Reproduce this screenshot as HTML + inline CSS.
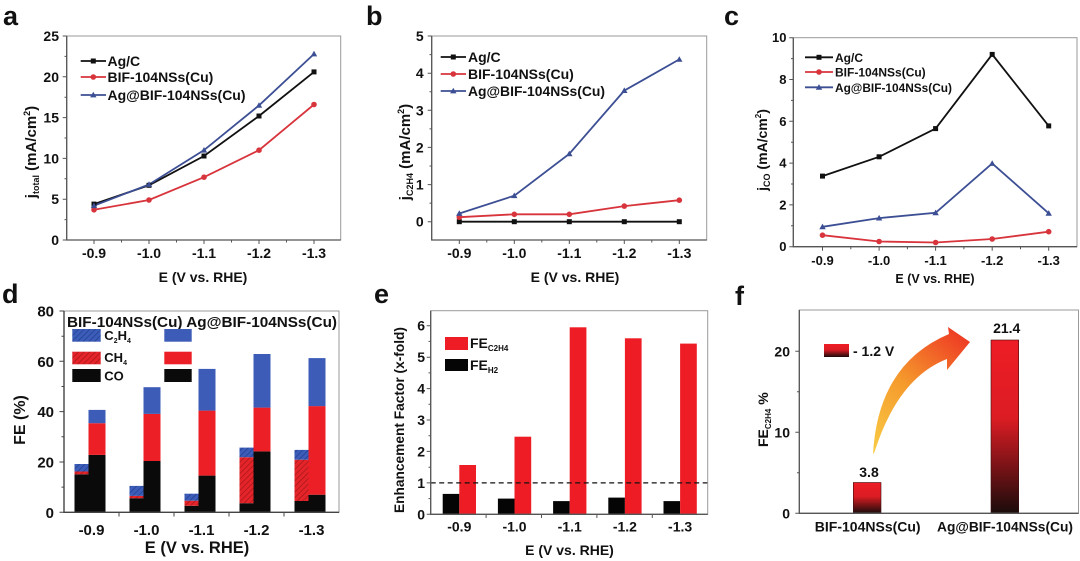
<!DOCTYPE html>
<html><head><meta charset="utf-8"><style>html,body{margin:0;padding:0;background:#fff;}svg{display:block;}</style></head>
<body>
<svg width="1080" height="561" viewBox="0 0 1080 561" xmlns="http://www.w3.org/2000/svg" font-family="'Liberation Sans', Arial, sans-serif" font-weight="bold" fill="#111">
<defs>
<pattern id="hb" patternUnits="userSpaceOnUse" width="4" height="4" patternTransform="rotate(45)"><rect width="4" height="4" fill="#3b5db9"/><line x1="0" y1="0" x2="0" y2="4" stroke="#203a86" stroke-width="1.3"/></pattern>
<pattern id="hr" patternUnits="userSpaceOnUse" width="4" height="4" patternTransform="rotate(45)"><rect width="4" height="4" fill="#e5242a"/><line x1="0" y1="0" x2="0" y2="4" stroke="#9c1518" stroke-width="1.3"/></pattern>
<linearGradient id="gbar" x1="0" y1="0" x2="0" y2="1"><stop offset="0" stop-color="#ee1d25"/><stop offset="0.45" stop-color="#dc1c23"/><stop offset="1" stop-color="#1a0b0b"/></linearGradient>
<linearGradient id="garr" gradientUnits="userSpaceOnUse" x1="873" y1="454" x2="968" y2="338"><stop offset="0" stop-color="#f9cc45"/><stop offset="0.5" stop-color="#f59a2c"/><stop offset="1" stop-color="#ee3a24"/></linearGradient>
</defs>

<!-- Panel labels -->
<g font-size="27">
<text x="3" y="25">a</text>
<text x="366" y="25">b</text>
<text x="724" y="25">c</text>
<text x="2" y="303">d</text>
<text x="374" y="303">e</text>
<text x="735" y="305">f</text>
</g>

<!-- ================= Panel a ================= -->
<rect x="66.7" y="36" width="274" height="204" fill="none" stroke="#9a9a9a" stroke-width="1"/>
<path d="M66.7 36V240H340.7" fill="none" stroke="#555" stroke-width="1.3"/>
<path d="M62.7 240H66.7M62.7 199.2H66.7M62.7 158.4H66.7M62.7 117.6H66.7M62.7 76.8H66.7M62.7 36H66.7M64.5 219.6H66.7M64.5 178.8H66.7M64.5 138H66.7M64.5 97.2H66.7M64.5 56.4H66.7M94 240V244M149 240V244M204 240V244M259 240V244M314 240V244M121.5 240V242.5M176.5 240V242.5M231.5 240V242.5M286.5 240V242.5" stroke="#555" stroke-width="1"/>
<g font-size="14" text-anchor="end">
<text x="59" y="245">0</text><text x="59" y="204.2">5</text><text x="59" y="163.4">10</text><text x="59" y="122.6">15</text><text x="59" y="81.8">20</text><text x="59" y="41">25</text>
</g>
<g font-size="14" text-anchor="middle">
<text x="94" y="258">-0.9</text><text x="149" y="258">-1.0</text><text x="204" y="258">-1.1</text><text x="259" y="258">-1.2</text><text x="314" y="258">-1.3</text>
<text x="203" y="282">E (V vs. RHE)</text>
</g>
<text transform="translate(36,152) rotate(-90)" text-anchor="middle" font-size="15">j<tspan font-size="9" dy="3">total</tspan><tspan dy="-3"> (mA/cm</tspan><tspan font-size="9" dy="-6">2</tspan><tspan dy="6">)</tspan></text>
<polyline points="94,204.1 149,185.3 204,156 259,116 314,71.9" fill="none" stroke="#111" stroke-width="1.8"/>
<polyline points="94,209.8 149,200 204,177.2 259,150.2 314,104.5" fill="none" stroke="#d8343c" stroke-width="1.8"/>
<polyline points="94,205.7 149,184.5 204,150.2 259,105.4 314,54" fill="none" stroke="#3d4f94" stroke-width="1.8"/>
<g fill="#111"><rect x="91.5" y="201.6" width="5" height="5"/><rect x="146.5" y="182.8" width="5" height="5"/><rect x="201.5" y="153.5" width="5" height="5"/><rect x="256.5" y="113.5" width="5" height="5"/><rect x="311.5" y="69.4" width="5" height="5"/></g>
<g fill="#d8343c"><circle cx="94" cy="209.8" r="2.8"/><circle cx="149" cy="200" r="2.8"/><circle cx="204" cy="177.2" r="2.8"/><circle cx="259" cy="150.2" r="2.8"/><circle cx="314" cy="104.5" r="2.8"/></g>
<g fill="#3d4f94"><polygon points="94,202.5 90.8,208.1 97.2,208.1"/><polygon points="149,181.3 145.8,186.9 152.2,186.9"/><polygon points="204,147 200.8,152.6 207.2,152.6"/><polygon points="259,102.2 255.8,107.8 262.2,107.8"/><polygon points="314,50.8 310.8,56.4 317.2,56.4"/></g>
<!-- legend a -->
<path d="M80.7 61H106" stroke="#111" stroke-width="1.8"/><rect x="90.8" y="58.5" width="5" height="5" fill="#111"/>
<path d="M80.7 77H106" stroke="#d8343c" stroke-width="1.8"/><circle cx="93.3" cy="77" r="2.8" fill="#d8343c"/>
<path d="M80.7 95H106" stroke="#3d4f94" stroke-width="1.8"/><polygon points="93.3,91.8 90.1,97.4 96.5,97.4" fill="#3d4f94"/>
<g font-size="14">
<text x="107.5" y="66">Ag/C</text>
<text x="107.5" y="82">BIF-104NSs(Cu)</text>
<text x="107.5" y="100" textLength="138" lengthAdjust="spacingAndGlyphs">Ag@BIF-104NSs(Cu)</text>
</g>

<!-- ================= Panel b ================= -->
<rect x="431.7" y="36" width="275" height="204" fill="none" stroke="#9a9a9a" stroke-width="1"/>
<path d="M431.7 36V240H706.7" fill="none" stroke="#555" stroke-width="1.3"/>
<path d="M427.7 221.7H431.7M427.7 184.6H431.7M427.7 147.4H431.7M427.7 110.3H431.7M427.7 73.2H431.7M427.7 36H431.7M429.5 203.1H431.7M429.5 166H431.7M429.5 128.9H431.7M429.5 91.7H431.7M429.5 54.6H431.7M459.3 240V244M514.3 240V244M569.3 240V244M624.3 240V244M679.3 240V244M486.8 240V242.5M541.8 240V242.5M596.8 240V242.5M651.8 240V242.5" stroke="#555" stroke-width="1"/>
<g font-size="14" text-anchor="end">
<text x="423.7" y="226.7">0</text><text x="423.7" y="189.6">1</text><text x="423.7" y="152.4">2</text><text x="423.7" y="115.3">3</text><text x="423.7" y="78.2">4</text><text x="423.7" y="41">5</text>
</g>
<g font-size="14" text-anchor="middle">
<text x="459.3" y="258">-0.9</text><text x="514.3" y="258">-1.0</text><text x="569.3" y="258">-1.1</text><text x="624.3" y="258">-1.2</text><text x="679.3" y="258">-1.3</text>
<text x="575" y="282">E (V vs. RHE)</text>
</g>
<text transform="translate(410,152) rotate(-90)" text-anchor="middle" font-size="15">j<tspan font-size="9" dy="3">C2H4</tspan><tspan dy="-3"> (mA/cm</tspan><tspan font-size="9" dy="-6">2</tspan><tspan dy="6">)</tspan></text>
<polyline points="459.3,221.7 514.3,221.7 569.3,221.7 624.3,221.7 679.3,221.7" fill="none" stroke="#111" stroke-width="1.8"/>
<polyline points="459.3,217.2 514.3,214.3 569.3,214.3 624.3,206.1 679.3,200.2" fill="none" stroke="#d8343c" stroke-width="1.8"/>
<polyline points="459.3,213.5 514.3,195.7 569.3,153.8 624.3,90.6 679.3,59.4" fill="none" stroke="#3d4f94" stroke-width="1.8"/>
<g fill="#111"><rect x="456.8" y="219.2" width="5" height="5"/><rect x="511.8" y="219.2" width="5" height="5"/><rect x="566.8" y="219.2" width="5" height="5"/><rect x="621.8" y="219.2" width="5" height="5"/><rect x="676.8" y="219.2" width="5" height="5"/></g>
<g fill="#d8343c"><circle cx="459.3" cy="217.2" r="2.8"/><circle cx="514.3" cy="214.3" r="2.8"/><circle cx="569.3" cy="214.3" r="2.8"/><circle cx="624.3" cy="206.1" r="2.8"/><circle cx="679.3" cy="200.2" r="2.8"/></g>
<g fill="#3d4f94"><polygon points="459.3,210.3 456.1,215.9 462.5,215.9"/><polygon points="514.3,192.5 511.1,198.1 517.5,198.1"/><polygon points="569.3,150.6 566.1,156.2 572.5,156.2"/><polygon points="624.3,87.4 621.1,93 627.5,93"/><polygon points="679.3,56.2 676.1,61.8 682.5,61.8"/></g>
<path d="M440.7 57H466" stroke="#111" stroke-width="1.8"/><rect x="450.8" y="54.5" width="5" height="5" fill="#111"/>
<path d="M440.7 74H466" stroke="#d8343c" stroke-width="1.8"/><circle cx="453.3" cy="74" r="2.8" fill="#d8343c"/>
<path d="M440.7 91H466" stroke="#3d4f94" stroke-width="1.8"/><polygon points="453.3,87.8 450.1,93.4 456.5,93.4" fill="#3d4f94"/>
<g font-size="14">
<text x="468" y="62">Ag/C</text>
<text x="468" y="79">BIF-104NSs(Cu)</text>
<text x="468" y="96" textLength="137" lengthAdjust="spacingAndGlyphs">Ag@BIF-104NSs(Cu)</text>
</g>

<!-- ================= Panel c ================= -->
<rect x="793.3" y="37.7" width="283.7" height="209" fill="none" stroke="#9a9a9a" stroke-width="1"/>
<path d="M793.3 37.7V246.7H1077" fill="none" stroke="#555" stroke-width="1.3"/>
<path d="M789.3 246.7H793.3M789.3 204.9H793.3M789.3 163.1H793.3M789.3 121.3H793.3M789.3 79.5H793.3M789.3 37.7H793.3M791 225.8H793.3M791 184H793.3M791 142.2H793.3M791 100.4H793.3M791 58.6H793.3M822.5 246.7V250.7M879.1 246.7V250.7M935.6 246.7V250.7M992.2 246.7V250.7M1048.7 246.7V250.7M850.8 246.7V249.2M907.4 246.7V249.2M963.9 246.7V249.2M1020.5 246.7V249.2" stroke="#555" stroke-width="1"/>
<g font-size="13" text-anchor="end">
<text x="786.5" y="251.2">0</text><text x="786.5" y="209.4">2</text><text x="786.5" y="167.6">4</text><text x="786.5" y="125.8">6</text><text x="786.5" y="84">8</text><text x="786.5" y="42.2">10</text>
</g>
<g font-size="13" text-anchor="middle">
<text x="822.5" y="265">-0.9</text><text x="879.1" y="265">-1.0</text><text x="935.6" y="265">-1.1</text><text x="992.2" y="265">-1.2</text><text x="1048.7" y="265">-1.3</text>
</g>
<text x="935" y="283" font-size="12.5" text-anchor="middle">E (V vs. RHE)</text>
<text transform="translate(767,150) rotate(-90)" text-anchor="middle" font-size="14">j<tspan font-size="9" dy="3">CO</tspan><tspan dy="-3"> (mA/cm</tspan><tspan font-size="8" dy="-6">2</tspan><tspan dy="6">)</tspan></text>
<polyline points="822.5,176.1 879.1,156.8 935.6,128.6 992.2,54.4 1048.7,125.9" fill="none" stroke="#111" stroke-width="1.8"/>
<polyline points="822.5,235.2 879.1,241.5 935.6,242.5 992.2,239 1048.7,231.7" fill="none" stroke="#d8343c" stroke-width="1.8"/>
<polyline points="822.5,226.8 879.1,218.1 935.6,212.8 992.2,163.5 1048.7,213.3" fill="none" stroke="#3d4f94" stroke-width="1.8"/>
<g fill="#111"><rect x="820" y="173.6" width="5" height="5"/><rect x="876.6" y="154.3" width="5" height="5"/><rect x="933.1" y="126.1" width="5" height="5"/><rect x="989.7" y="51.9" width="5" height="5"/><rect x="1046.2" y="123.4" width="5" height="5"/></g>
<g fill="#d8343c"><circle cx="822.5" cy="235.2" r="2.8"/><circle cx="879.1" cy="241.5" r="2.8"/><circle cx="935.6" cy="242.5" r="2.8"/><circle cx="992.2" cy="239" r="2.8"/><circle cx="1048.7" cy="231.7" r="2.8"/></g>
<g fill="#3d4f94"><polygon points="822.5,223.6 819.3,229.2 825.7,229.2"/><polygon points="879.1,214.9 875.9,220.5 882.3,220.5"/><polygon points="935.6,209.6 932.4,215.2 938.8,215.2"/><polygon points="992.2,160.3 989,165.9 995.4,165.9"/><polygon points="1048.7,210.1 1045.5,215.7 1051.9,215.7"/></g>
<path d="M805 57.3H833" stroke="#111" stroke-width="1.8"/><rect x="816.5" y="54.8" width="5" height="5" fill="#111"/>
<path d="M805 72H833" stroke="#d8343c" stroke-width="1.8"/><circle cx="819" cy="72" r="2.8" fill="#d8343c"/>
<path d="M805 87.3H833" stroke="#3d4f94" stroke-width="1.8"/><polygon points="819,84.1 815.8,89.7 822.2,89.7" fill="#3d4f94"/>
<g font-size="12">
<text x="835" y="61.8">Ag/C</text>
<text x="835" y="76.5">BIF-104NSs(Cu)</text>
<text x="835" y="91.8" textLength="117" lengthAdjust="spacingAndGlyphs">Ag@BIF-104NSs(Cu)</text>
</g>

<!-- ================= Panel d ================= -->
<!-- BIF bars (hatched) -->
<g>
<rect x="74.5" y="474.3" width="14" height="38" fill="#0a0a0a"/><rect x="74.5" y="471.5" width="14" height="2.8" fill="url(#hr)"/><rect x="74.5" y="464" width="14" height="7.5" fill="url(#hb)"/>
<rect x="129.5" y="498.2" width="14" height="14.1" fill="#0a0a0a"/><rect x="129.5" y="495.9" width="14" height="2.3" fill="url(#hr)"/><rect x="129.5" y="485.9" width="14" height="10" fill="url(#hb)"/>
<rect x="184.5" y="505.8" width="14" height="6.5" fill="#0a0a0a"/><rect x="184.5" y="500.7" width="14" height="5.1" fill="url(#hr)"/><rect x="184.5" y="493.7" width="14" height="7" fill="url(#hb)"/>
<rect x="239.5" y="503.2" width="14" height="9.1" fill="#0a0a0a"/><rect x="239.5" y="457.2" width="14" height="46" fill="url(#hr)"/><rect x="239.5" y="447.6" width="14" height="9.6" fill="url(#hb)"/>
<rect x="294.5" y="501" width="14" height="11.3" fill="#0a0a0a"/><rect x="294.5" y="459.7" width="14" height="41.3" fill="url(#hr)"/><rect x="294.5" y="449.9" width="14" height="9.8" fill="url(#hb)"/>
</g>
<!-- Ag bars -->
<g>
<rect x="88.5" y="454.9" width="17" height="57.4" fill="#0a0a0a"/><rect x="88.5" y="423.2" width="17" height="31.7" fill="#ec1f26"/><rect x="88.5" y="409.9" width="17" height="13.3" fill="#3d5cb8"/>
<rect x="143.5" y="461" width="17" height="51.3" fill="#0a0a0a"/><rect x="143.5" y="413.9" width="17" height="47.1" fill="#ec1f26"/><rect x="143.5" y="387.2" width="17" height="26.7" fill="#3d5cb8"/>
<rect x="198.5" y="475.6" width="17" height="36.7" fill="#0a0a0a"/><rect x="198.5" y="410.6" width="17" height="65" fill="#ec1f26"/><rect x="198.5" y="368.9" width="17" height="41.7" fill="#3d5cb8"/>
<rect x="253.5" y="451.4" width="17" height="60.9" fill="#0a0a0a"/><rect x="253.5" y="407.6" width="17" height="43.8" fill="#ec1f26"/><rect x="253.5" y="354" width="17" height="53.6" fill="#3d5cb8"/>
<rect x="308.5" y="494.7" width="17" height="17.6" fill="#0a0a0a"/><rect x="308.5" y="406.1" width="17" height="88.6" fill="#ec1f26"/><rect x="308.5" y="358.1" width="17" height="48" fill="#3d5cb8"/>
</g>
<rect x="64" y="311" width="275" height="201.3" fill="none" stroke="#9a9a9a" stroke-width="1"/>
<path d="M64 311V512.3H339" fill="none" stroke="#444" stroke-width="1.4"/>
<path d="M59.5 512.3H64M59.5 462H64M59.5 411.6H64M59.5 361.3H64M59.5 311H64M61.5 487.1H64M61.5 436.8H64M61.5 386.5H64M61.5 336.2H64M119 512.3V516.5M174 512.3V516.5M229 512.3V516.5M284 512.3V516.5" stroke="#444" stroke-width="1"/>
<g font-size="15" text-anchor="end">
<text x="54" y="517.8">0</text><text x="54" y="467.5">20</text><text x="54" y="417.1">40</text><text x="54" y="366.8">60</text><text x="54" y="316.5">80</text>
</g>
<g font-size="15" text-anchor="middle">
<text x="91.5" y="535">-0.9</text><text x="146.5" y="535">-1.0</text><text x="201.5" y="535">-1.1</text><text x="256.5" y="535">-1.2</text><text x="311.5" y="535">-1.3</text>
</g>
<text x="197" y="553" font-size="16.5" text-anchor="middle">E (V vs. RHE)</text>
<text transform="translate(25,420) rotate(-90)" text-anchor="middle" font-size="16">FE (%)</text>
<text x="67" y="327" font-size="15" textLength="270" lengthAdjust="spacingAndGlyphs">BIF-104NSs(Cu) Ag@BIF-104NSs(Cu)</text>
<rect x="72.3" y="329" width="28.4" height="12.7" fill="url(#hb)"/>
<rect x="72.3" y="351.7" width="28.4" height="12.6" fill="url(#hr)"/>
<rect x="72.3" y="369" width="28.4" height="13" fill="#0a0a0a"/>
<rect x="164.3" y="329" width="27.4" height="12.7" fill="#3d5cb8"/>
<rect x="164.3" y="351.7" width="27.4" height="12.6" fill="#ec1f26"/>
<rect x="164.3" y="369" width="27.4" height="13" fill="#0a0a0a"/>
<g font-size="13">
<text x="104.3" y="340">C<tspan font-size="7" dy="3">2</tspan><tspan dy="-3">H</tspan><tspan font-size="7" dy="3">4</tspan></text>
<text x="104.3" y="362">CH<tspan font-size="7" dy="3">4</tspan></text>
<text x="104.3" y="380.5">CO</text>
</g>

<!-- ================= Panel e ================= -->
<g fill="#050505">
<rect x="442.7" y="493.9" width="16.6" height="20.4"/><rect x="497.9" y="498.6" width="16.6" height="15.7"/><rect x="553.1" y="501.1" width="16.6" height="13.2"/><rect x="608.3" y="497.6" width="16.6" height="16.7"/><rect x="663.5" y="501.1" width="16.6" height="13.2"/>
</g>
<g fill="#ee1c24">
<rect x="459.3" y="465" width="16.7" height="49.3"/><rect x="514.5" y="436.7" width="16.7" height="77.6"/><rect x="569.7" y="327.3" width="16.7" height="187"/><rect x="624.9" y="338.3" width="16.7" height="176"/><rect x="680.1" y="343.6" width="16.7" height="170.7"/>
</g>
<path d="M430.7 482.9H707.7" stroke="#111" stroke-width="1.3" stroke-dasharray="5,3.5"/>
<rect x="430.7" y="310.7" width="277" height="203.6" fill="none" stroke="#9a9a9a" stroke-width="1"/>
<path d="M430.7 310.7V514.3H707.7" fill="none" stroke="#555" stroke-width="1.3"/>
<path d="M426.7 514.3H430.7M426.7 482.9H430.7M426.7 451.4H430.7M426.7 420H430.7M426.7 388.6H430.7M426.7 357.2H430.7M426.7 325.7H430.7M428.5 498.6H430.7M428.5 467.2H430.7M428.5 435.7H430.7M428.5 404.3H430.7M428.5 372.9H430.7M428.5 341.4H430.7M486.1 514.3V518M541.5 514.3V518M596.9 514.3V518M652.3 514.3V518" stroke="#555" stroke-width="1"/>
<g font-size="14" text-anchor="end">
<text x="425" y="519.3">0</text><text x="425" y="487.9">1</text><text x="425" y="456.4">2</text><text x="425" y="425">3</text><text x="425" y="393.6">4</text><text x="425" y="362.2">5</text><text x="425" y="330.7">6</text>
</g>
<g font-size="14" text-anchor="middle">
<text x="459.3" y="531.7">-0.9</text><text x="514.5" y="531.7">-1.0</text><text x="569.7" y="531.7">-1.1</text><text x="624.9" y="531.7">-1.2</text><text x="680.1" y="531.7">-1.3</text>
<text x="569.5" y="555">E (V vs. RHE)</text>
</g>
<text transform="translate(404,420) rotate(-90)" text-anchor="middle" font-size="14" textLength="186" lengthAdjust="spacingAndGlyphs">Enhancement Factor (x-fold)</text>
<rect x="445" y="337" width="23" height="13" fill="#ee1c24"/>
<rect x="445" y="359" width="23" height="12" fill="#050505"/>
<g font-size="14">
<text x="470" y="348">FE<tspan font-size="8" dy="3">C2H4</tspan></text>
<text x="470" y="370">FE<tspan font-size="8" dy="3">H2</tspan></text>
</g>

<!-- ================= Panel f ================= -->
<rect x="853.3" y="482.5" width="27.7" height="30.8" fill="url(#gbar)" stroke="#3a1010" stroke-width="0.6"/>
<rect x="991" y="340" width="27.7" height="173.3" fill="url(#gbar)" stroke="#3a1010" stroke-width="0.6"/>
<rect x="799.3" y="310" width="279.2" height="203.3" fill="none" stroke="#9a9a9a" stroke-width="1"/>
<path d="M799.3 310V513.3H1078.5" fill="none" stroke="#555" stroke-width="1.3"/>
<path d="M795.3 513.3H799.3M795.3 432.3H799.3M795.3 351.3H799.3M797 472.8H799.3M797 391.8H799.3" stroke="#555" stroke-width="1"/>
<g font-size="14" text-anchor="end">
<text x="790" y="518.3">0</text><text x="790" y="437.3">10</text><text x="790" y="356.3">20</text>
</g>
<g font-size="14" text-anchor="middle">
<text x="867.7" y="531.7">BIF-104NSs(Cu)</text>
<text x="1005" y="531.7" textLength="136" lengthAdjust="spacingAndGlyphs">Ag@BIF-104NSs(Cu)</text>
<text x="869" y="477">3.8</text>
<text x="1006.7" y="333">21.4</text>
</g>
<text transform="translate(768,447) rotate(-90)" font-size="14">FE<tspan font-size="8" dy="3">C2H4</tspan><tspan dy="-3"> %</tspan></text>
<rect x="824" y="344" width="25" height="13" fill="url(#gbar)"/>
<text x="853" y="356" font-size="14">- 1.2 V</text>
<path d="M873 454 Q878 364 949 334 L948 327 L970 342 L947 370 L947 359 Q898 378 874.5 452 Z" fill="url(#garr)"/>
</svg>
</body></html>
